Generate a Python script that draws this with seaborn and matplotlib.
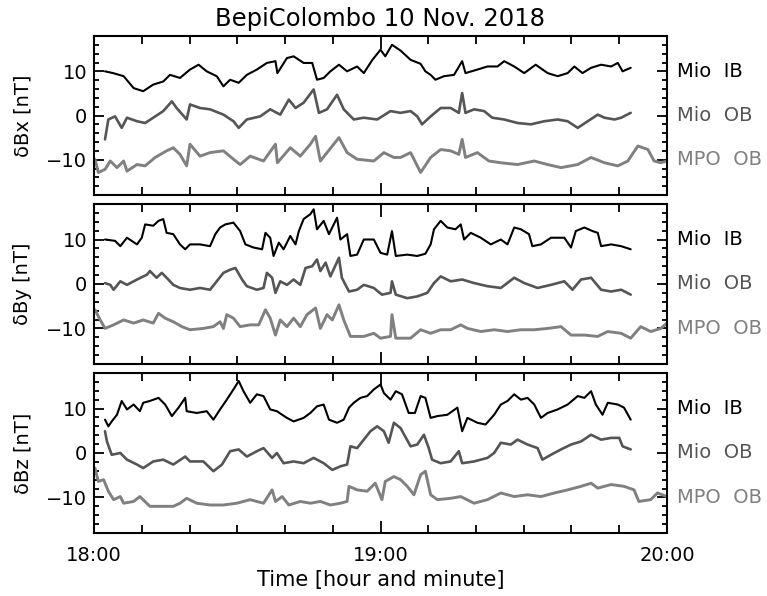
import numpy as np
import matplotlib
matplotlib.use("Agg")
import matplotlib.pyplot as plt
from matplotlib.ticker import MultipleLocator
import seaborn as sns
import pandas as pd

# minutes after 18:00 and field perturbation (nT)
# --- dBx ---
bx_ib_t = [2.3, 4, 6.2, 8.3, 10.3, 12.4, 14.5, 15.9, 18, 20.1, 21.9, 23.6, 25.7, 27.1, 28.5, 30.3, 32, 34.1, 36.2, 38,
           38.4, 40.4, 41.8, 43.9, 45.7, 46.7, 48.1, 49.5, 51.3, 53, 55.1, 56.5, 58.3, 60, 61, 62.4, 64.2, 66.3, 68.4,
           69.4, 70.5, 71.5, 73.3, 75.4, 77.1, 77.8, 80.3, 82.4, 84.5, 85.9, 88, 90.1, 92.5, 95, 97.1, 99.2, 100.6,
           102.3, 104.1, 106.2, 108.3, 109.7, 110.7, 112.4]
bx_ib_v = [10, 9.6, 8.9, 6.2, 5.5, 7, 7.7, 9.2, 8.5, 10.4, 11.5, 10, 8.9, 6.6, 8.1, 7.4, 9.2, 10.4, 11.9, 12.3,
           9.6, 13, 13.4, 11.9, 11.9, 8.1, 8.5, 10, 11.5, 10, 11.1, 9.6, 12.6, 14.9, 13.4, 16, 14.7, 12.6, 11.7,
           10, 9.2, 8.1, 8.9, 9.2, 12.3, 9.6, 10.4, 11.1, 11.1, 12.3, 11.1, 9.6, 11.5, 9.6, 8.9, 9.6, 11.1,
           9.6, 10.8, 11.5, 11.1, 11.9, 10, 10.8]
bx_ob_t = [2.3, 3, 4.4, 5.8, 6.9, 9, 10.7, 12.4, 14.5, 16.3, 17.3, 19.4, 20.1, 22.2, 24.3, 27.1, 29.2, 30.3, 32, 34.8,
           36.9, 39, 40.8, 42.2, 43.9, 46, 47.1, 48.8, 50.9, 52.3, 54.4, 56.5, 59.3, 62.1, 64.2, 66.3, 67.7, 68.7,
           70.5, 72.6, 74.7, 76.4, 77.1, 77.8, 79.6, 81.7, 83.4, 85.9, 88.7, 91.5, 94.3, 97.1, 99.2, 101.3, 103.4,
           105.5, 106.9, 109, 110.4, 112.4]
bx_ob_v = [-5.4, -0.9, -0.2, -2.8, -0.5, -1.3, -1.7, -0.5, 1, 3.2, 1.7, -0.9, 2.5, 1.7, 1.4, 0.2, -1.3, -2.8, -0.9, -0.2,
           1.4, 0.2, 3.6, 1.7, 2.9, 5.9, 0.6, 1.4, 4.7, 1.4, -0.9, -0.5, -0.9, 1, 0.6, 1, -0.2, -2,
           -0.2, 1.7, 1.7, 0.6, 5.1, 0.6, 1.4, 1, -0.5, -0.9, -1.7, -2, -1.3, -0.9, -1.3, -2.8, -1.3,
           0.2, -0.5, -0.9, -0.5, 0.6]
bx_mpo_t = [0.2, 0.9, 2.3, 3.4, 4.8, 6.2, 6.9, 9, 10.7, 12.8, 15.2, 16.6, 18, 19.4, 20.1, 22.2, 24.3, 27.1, 29.2, 30.6,
            32.7, 35.5, 38, 38.4, 41.1, 43.2, 45.3, 46.4, 47.4, 48.8, 51.3, 53, 55.1, 58.6, 60.7, 62.8, 64.2, 66.3,
            68.4, 70.5, 72.6, 74.7, 76.4, 77.1, 77.8, 80.3, 82.7, 85.2, 88.7, 92.2, 95, 97.8, 101.3, 104.1, 106.9,
            109.7, 111.8, 113.9, 116, 117.3, 118.7, 120]
bx_mpo_v = [-9.9, -12.9, -12.2, -10.3, -11.8, -10.3, -12.6, -11.1, -11.4, -9.5, -8, -7.3, -8.8, -11.4, -6.5, -9.2, -8.4,
            -8, -9.9, -11.1, -9.2, -10.3, -6.5, -10.7, -7.3, -9.2, -6.5, -4.7, -10.3, -8.4, -5, -8.4, -9.9, -10.3,
            -8.4, -9.5, -9.5, -8.4, -12.9, -9.5, -7.7, -8, -8.8, -5.4, -9.5, -8.4, -10.3, -10.7, -11.1, -10.3,
            -11.1, -11.8, -11.1, -9.5, -10.7, -11.4, -10.3, -6.9, -7.7, -10.3, -10.7, -10.3]

# --- dBy ---
by_ib_t = [2.3, 4.4, 5.5, 6.9, 9, 10, 10.7, 12.4, 13.5, 14.5, 15.2, 16.6, 18, 19.1, 20.1, 22.2, 24.3, 25.4, 26.4, 27.5,
           29.2, 30.6, 31.7, 33.4, 35.2, 35.9, 36.9, 37.6, 38.7, 39.7, 41.1, 42.2, 42.9, 43.9, 45.3, 46, 46.7, 48.1,
           49.2, 50.9, 51.6, 53, 53.7, 55.1, 56.5, 58.6, 60, 61.4, 62.4, 63.2, 65.6, 67.7, 69.4, 70.5, 71.2, 72.6,
           74, 75.7, 76.8, 77.5, 78.9, 81, 83.1, 85.2, 86.6, 88, 89.4, 91.1, 91.8, 93.6, 95.7, 98.5, 99.9, 100.9,
           102.7, 104.4, 105.5, 106.2, 108.3, 110.4, 112.4]
by_ib_v = [10, 9.7, 8.5, 10.4, 8.9, 10.4, 13.4, 13.1, 14.2, 14.6, 11.5, 11.2, 8.9, 7.8, 8.9, 8.9, 8.5, 11.2, 12.7, 13.4,
           13.8, 11.9, 8.9, 8.2, 7.8, 11.5, 10.4, 6.3, 9.3, 7.8, 10.8, 8.9, 11.9, 14.6, 15.7, 16.8, 12.3, 14.2,
           11.2, 14.9, 10, 11.2, 6.3, 6.6, 10, 10, 7, 6.6, 11.9, 6.3, 6.6, 6.3, 6.8, 8.9, 12.3, 14.2,
           12.7, 12.3, 13.4, 10, 11.5, 10.4, 8.9, 10, 8.9, 12.7, 12.3, 11.2, 8.5, 8.9, 10.4, 10.4, 8.2, 11.9,
           12.7, 11.9, 11.5, 8.5, 8.9, 8.5, 7.8]
by_ob_t = [2.3, 3.4, 4.1, 5.5, 6.9, 9, 11.1, 11.7, 13.1, 14.2, 15.2, 16.6, 18, 20.1, 22.2, 24.3, 25.7, 27.1, 28.5, 29.6,
           31, 32, 34.1, 35.5, 36.2, 37.3, 38, 39, 40.4, 41.8, 43.2, 44.3, 45.7, 46.7, 47.4, 48.5, 49.5, 51.3, 51.9,
           53.4, 55.1, 56.5, 58.6, 60.3, 62.1, 62.4, 63.2, 65.6, 67.7, 69.8, 71.2, 72.6, 74.7, 77.1, 79.6, 82.4,
           85.2, 88, 90.1, 92.9, 95.7, 98.5, 100.2, 102, 104.1, 106.2, 108.3, 110.4, 112.4]
by_ob_v = [0.2, -0.2, -1.3, 0.6, -0.2, 1, 2.1, 2.9, 1.4, 2.5, 1.4, -0.2, -0.9, -1.3, -0.9, -1.3, 0.6, 2.5, 3.2, 3.6,
           1, -0.5, -1.3, -0.9, 2.5, 1.4, -2, 0.6, -0.2, 1, -0.2, 3.6, 4, 5.5, 2.9, 4.8, 1.7, 5.9, 1.4,
           -1.7, -1.3, -0.2, -0.9, -2.4, -2, 0.6, -2.4, -3.2, -2.8, -2, 0.2, 1.7, 0.6, 1, 0.2, -0.5,
           -0.9, 1.4, 0.2, -0.9, -0.2, 0.6, -1.3, 1, 1.4, -1.3, -1.7, -1.3, -2.4]
by_mpo_t = [0.2, 1.3, 2.3, 4.1, 6.2, 8.3, 10.3, 12.4, 13.5, 14.9, 16.6, 18.4, 20.1, 22.9, 25, 26.4, 27.1, 27.8, 29.2,
            30.6, 32.7, 34.5, 35.9, 36.9, 38, 39, 40.4, 41.8, 43.2, 44.6, 46.4, 47.4, 48.8, 49.9, 51.3, 52.3, 53.7,
            56.5, 58.6, 60, 62.1, 62.4, 63.2, 66.3, 68.4, 70.5, 72.6, 74.7, 76.8, 78.2, 81, 83.8, 86.6, 89.4, 92.2,
            95, 97.8, 99.9, 102.7, 105.5, 107.6, 110.4, 112.4, 114.5, 116.6, 118.7, 120]
by_mpo_v = [-5.8, -8.1, -10, -9.2, -8.1, -8.8, -8.1, -8.8, -6.6, -7.7, -8.5, -9.6, -10.3, -10, -9.6, -8.5, -10, -6.9,
            -7.7, -9.6, -9.2, -9.2, -5.8, -7.7, -11.5, -8.1, -9.6, -7.7, -9.6, -6.9, -5.4, -10, -6.9, -8.1, -4.7,
            -8.1, -11.8, -11.8, -11.1, -12.2, -11.8, -6.9, -12.2, -12.2, -10.3, -11.1, -10.3, -10.3, -9.2, -10,
            -10.7, -10.3, -10.7, -10.3, -10.3, -10, -9.6, -11.5, -11.5, -11.8, -10.7, -11.1, -12.2, -9.6, -10.7,
            -10, -8.8]

# --- dBz ---
bz_ib_t = [2.3, 3, 3.7, 4.8, 5.8, 6.9, 8.3, 9.6, 10.3, 11.7, 13.5, 14.9, 16.3, 17.7, 19.1, 19.4, 21.5, 23.6, 25, 26.4,
           27.8, 29.2, 30.3, 31.3, 32.7, 34.1, 35.5, 36.9, 38.3, 39.4, 40.4, 41.8, 43.9, 45.3, 46.7, 48.1, 49.2, 50.9,
           52.3, 53.4, 54.4, 55.8, 57.2, 58.6, 60, 60.7, 62.1, 63.2, 64.5, 65.9, 67.2, 68.4, 69.4, 70.5, 71.9, 74,
           76.1, 77.1, 78.2, 80.3, 82, 83.8, 85.2, 86.6, 88, 89.4, 90.8, 92.2, 93.6, 95, 97.1, 99.2, 101.3, 102.7,
           104.1, 105.1, 106.5, 107.6, 109.7, 111, 112.4]
bz_ib_v = [7.5, 6, 7.1, 8.6, 11.7, 9.8, 10.9, 9.4, 11.3, 11.7, 12.4, 10.9, 8.3, 10.2, 12.4, 9.4, 9, 9.4, 7.5, 9.8,
           12, 14.3, 16.2, 13.9, 11.3, 13.2, 12.8, 9.8, 9.4, 8.6, 7.9, 7.1, 7.9, 9, 10.5, 10.9, 7.5, 6.8,
           7.5, 10.2, 11.3, 12.4, 12.8, 14.3, 15.4, 13.5, 12, 13.9, 13.2, 9, 9, 12.8, 12.4, 7.9, 8.3, 8.6,
           10.2, 4.9, 7.9, 6.8, 6.4, 8.6, 10.9, 11.7, 13.2, 12, 12.4, 10.9, 7.9, 9, 9.8, 10.9, 12.8, 12.4,
           13.9, 10.9, 8.6, 11.3, 10.9, 10.2, 7.5]
bz_ob_t = [2.3, 2.7, 3.7, 5.5, 6.9, 9, 10.3, 12.4, 14.5, 16.6, 19.1, 20.1, 22.9, 25, 26.8, 28.5, 30.3, 32, 34.1, 35.5,
           37.3, 38.3, 39.7, 41.8, 43.9, 46, 48.1, 49.9, 51.6, 53, 53.7, 55.1, 56.5, 57.9, 59.3, 60.7, 61.7, 62.8,
           64.2, 66.3, 67.7, 69.1, 70.1, 70.8, 72.6, 74.7, 76.4, 77.1, 79.6, 82.4, 83.8, 85.2, 87.3, 88.7, 90.8,
           92.9, 93.9, 95.7, 97.8, 99.9, 102, 104.1, 106.2, 108.3, 110, 110.7, 112.4]
bz_ob_v = [4.9, 2.6, -0.4, 0, -1.5, -2.6, -3.4, -1.9, -1.5, -2.6, -0.8, -1.9, -1.9, -4.1, -2.6, 0.4, 0.8, -0.8, 0.4, 1.1,
           -1.1, 0, -2.3, -1.9, -2.3, -1.1, -2.3, -3.8, -3, -2.6, 1.5, 1.1, 3, 4.9, 6, 4.9, 2.3, 6.8,
           5.6, 1.5, 1.9, 4.1, 1.1, -1.5, -2.3, -1.9, 0.4, -2.3, -1.9, -1.1, 0, 2.3, 1.9, 3, 1.9,
           1.1, -1.5, -0.4, 0.8, 1.9, 2.6, 4.1, 3, 3.4, 3.4, 1.5, 0.8]
bz_mpo_t = [0.2, 0.9, 2, 3, 4.1, 5.5, 6.2, 8.3, 9.6, 11.7, 14.5, 16.6, 18, 19.4, 21.5, 24.3, 27.1, 29.9, 32.7, 35.5,
            37.3, 38, 39.4, 40.8, 43.2, 45.3, 47.4, 49.5, 51.6, 53, 53.4, 55.1, 57.2, 58.9, 60.3, 61, 62.8, 64.2,
            65.6, 67, 68.4, 69.4, 70.5, 71.9, 74.7, 76.8, 79.6, 82.4, 85.2, 88, 90.8, 93.6, 96.4, 99.2, 102, 104.1,
            105.5, 108.3, 111, 113.1, 114.1, 116.6, 118, 120]
bz_mpo_v = [-3.4, -6.4, -6, -8.6, -10.5, -9.8, -11.3, -10.9, -9.8, -12, -12, -12, -11.3, -10.2, -11.3, -11.7, -11.7,
            -11.3, -10.5, -11.3, -8.3, -10.9, -9.8, -11.7, -10.9, -11.3, -10.9, -11.7, -11.3, -10.9, -7.5, -8.3,
            -8.6, -6.8, -10.5, -6.4, -5.3, -6, -7.5, -9.4, -4.9, -4.1, -9.4, -10.5, -10.2, -9.8, -11.3, -10.5,
            -9, -9.8, -9.4, -9.8, -9, -8.3, -7.5, -6.8, -7.9, -7.1, -7.5, -8.3, -10.9, -10.5, -9, -9.8]

components = ["δBx [nT]", "δBy [nT]", "δBz [nT]"]
sensors = ["Mio  IB", "Mio  OB", "MPO  OB"]
offsets = [10, 0, -10]
colors = ["black", "#555555", "#808080"]
widths = [1.5, 1.9, 2.1]
hour_labels = ["18:00", "19:00", "20:00"]

panels = [
    [(bx_ib_t, bx_ib_v), (bx_ob_t, bx_ob_v), (bx_mpo_t, bx_mpo_v)],
    [(by_ib_t, by_ib_v), (by_ob_t, by_ob_v), (by_mpo_t, by_mpo_v)],
    [(bz_ib_t, bz_ib_v), (bz_ob_t, bz_ob_v), (bz_mpo_t, bz_mpo_v)],
]

sns.set_style("ticks")
plt.rcParams['font.family'] = ['DejaVu Sans']
plt.rcParams.update({"text.color": "black", "axes.labelcolor": "black",
                     "xtick.color": "black", "ytick.color": "black",
                     "axes.edgecolor": "black"})

fig = plt.figure(figsize=(7.67, 5.96), dpi=100)
boxes = [[0.1226, 0.6728, 0.747, 0.2668],
         [0.1226, 0.3893, 0.747, 0.2685],
         [0.1226, 0.1057, 0.747, 0.2685]]

for i, box in enumerate(boxes):
    ax = fig.add_axes(box)
    for j, (t, v) in enumerate(panels[i]):
        df = pd.DataFrame({"t": t, "v": v})
        sns.lineplot(data=df, x="t", y="v", ax=ax, color=colors[j], lw=widths[j])
        ax.text(1.017, offsets[j], sensors[j], transform=ax.get_yaxis_transform(),
                color=colors[j], fontsize=14, va="center", ha="left")

    ax.set_xlim(0, 120)
    ax.set_ylim(-18, 18)
    ax.set_xticks([0, 60, 120])
    ax.xaxis.set_minor_locator(MultipleLocator(10))
    ax.set_yticks(offsets)
    ax.yaxis.set_minor_locator(MultipleLocator(2))
    ax.tick_params(which="both", direction="in", top=True, right=True, bottom=True, left=True,
                   width=1.3, labelsize=14, colors="black")
    ax.tick_params(axis="x", which="major", length=9, pad=9)
    ax.tick_params(axis="x", which="minor", length=5.5)
    ax.tick_params(axis="y", which="major", length=7, pad=5)
    ax.tick_params(axis="y", which="minor", length=3.5)
    for sp in ax.spines.values():
        sp.set_linewidth(1.5)
        sp.set_color("black")

    ax.set_ylabel(components[i], fontsize=14)
    ax.yaxis.set_label_coords(-0.108, 0.5)
    if i < 2:
        ax.set_xlabel("")
        ax.tick_params(axis="x", labelbottom=False)
    else:
        ax.set_xticklabels(hour_labels)
        ax.set_xlabel("Time [hour and minute]", fontsize=15, labelpad=4)

fig.text(0.495, 0.968, "BepiColombo 10 Nov. 2018", fontsize=17.5, ha="center", va="center")

fig.savefig("out.png", dpi=100)
